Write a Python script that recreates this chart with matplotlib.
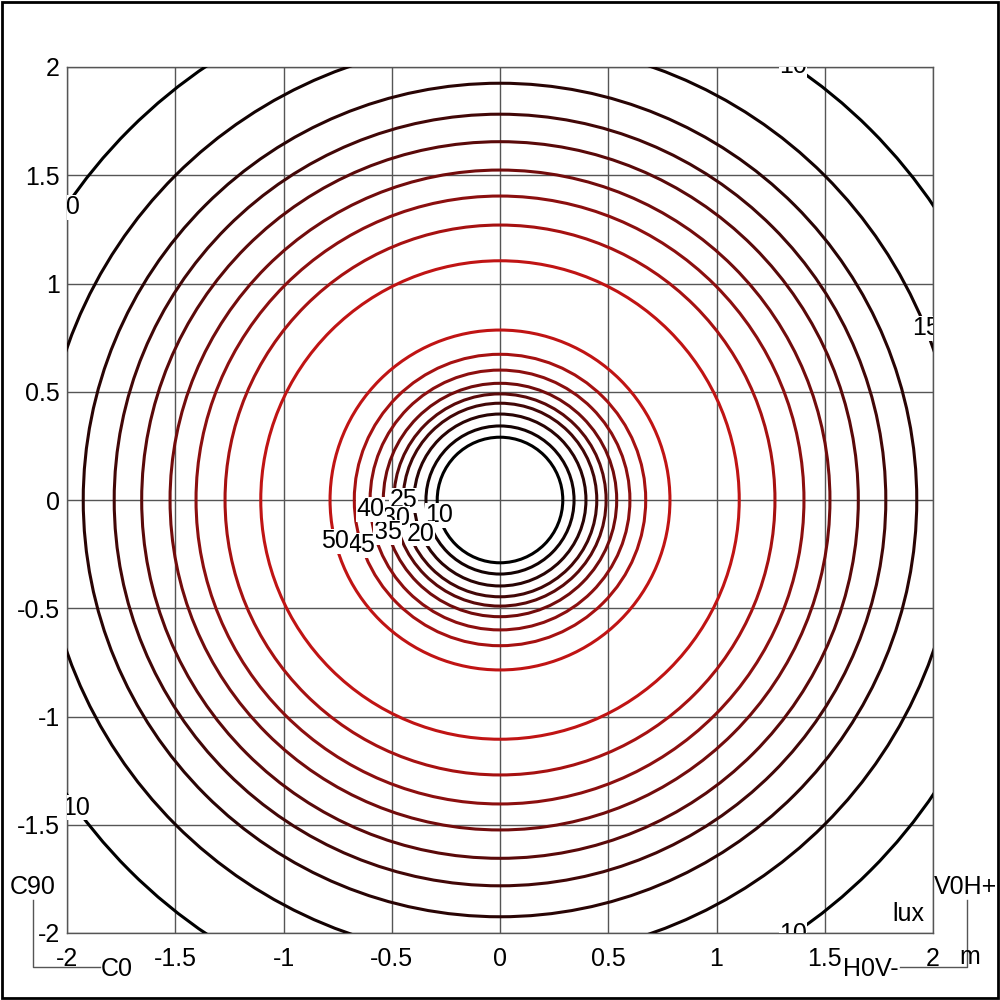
import numpy as np
import matplotlib
matplotlib.use('Agg')
import matplotlib.pyplot as plt
from matplotlib.patches import Circle, Rectangle
from matplotlib.lines import Line2D
from matplotlib.colors import LinearSegmentedColormap

plt.rcParams['font.family'] = ['Liberation Sans', 'DejaVu Sans']

# Isolux levels (lux) and their radii (m)
inner_levels = [10, 15, 20, 25, 30, 35, 40, 45, 50]
inner_radii = [0.29, 0.342, 0.397, 0.447, 0.49, 0.539, 0.60, 0.673, 0.785]
outer_levels = [50, 45, 40, 35, 30, 25, 20, 15, 10]
outer_radii = [1.105, 1.27, 1.404, 1.524, 1.655, 1.782, 1.925, 2.12, 2.42]

# Contour labels: (level, radius, angle in degrees)
label_level = [10, 20, 25, 30, 35, 40, 45, 50, 10, 10, 10, 10, 15]
label_radius = [0.29, 0.397, 0.447, 0.49, 0.539, 0.60, 0.673, 0.785,
                2.42, 2.42, 2.42, 2.42, 2.12]
label_angle = [194, 203, 180, 190, 196, 184, 198, 194, 56, 146, 216, -56, 22]

ticks = [-2, -1.5, -1, -0.5, 0, 0.5, 1, 1.5, 2]
tick_labels = ['-2', '-1.5', '-1', '-0.5', '0', '0.5', '1', '1.5', '2']

cmap = LinearSegmentedColormap.from_list('isolux', ['#000000', '#c01414'])
FS = 18


def level_color(v):
    t = (v - 10) / 40.0
    return cmap(t ** 1.1)


fig = plt.figure(figsize=(10, 10), dpi=100)
ax = fig.add_axes([0.067, 0.067, 0.866, 0.866])
ax.set_xlim(-2, 2)
ax.set_ylim(-2, 2)
ax.set_aspect('auto')

# grid
ax.set_xticks(ticks)
ax.set_yticks(ticks)
ax.set_xticklabels(tick_labels)
ax.set_yticklabels(tick_labels)
ax.tick_params(length=0, labelsize=FS, colors='black')
ax.tick_params(axis='x', pad=10)
ax.tick_params(axis='y', pad=5)
ax.grid(True, color='#555555', linewidth=1.0)
ax.set_axisbelow(True)
for s in ax.spines.values():
    s.set_color('#555555')
    s.set_linewidth(1.0)

# isolux circles
for lev, r in zip(inner_levels + outer_levels, inner_radii + outer_radii):
    ax.add_patch(Circle((0, 0), r, fill=False, edgecolor=level_color(lev),
                        linewidth=2.2, zorder=3))

# labels
for lev, r, a in zip(label_level, label_radius, label_angle):
    th = np.deg2rad(a)
    ax.text(r * np.cos(th), r * np.sin(th), str(lev), fontsize=FS,
            ha='center', va='center', zorder=4, clip_on=True,
            bbox=dict(boxstyle='square,pad=0.02', fc='white', ec='none'))

ax.text(0.99, 0.008, 'lux', transform=ax.transAxes, fontsize=FS,
        ha='right', va='bottom')

# corner annotations
gray = '#555555'
fig.add_artist(Line2D([0.033, 0.033, 0.100], [0.100, 0.033, 0.033],
                      color=gray, linewidth=1.0))
fig.add_artist(Line2D([0.900, 0.967, 0.967], [0.033, 0.033, 0.100],
                      color=gray, linewidth=1.0))
fig.text(0.033, 0.101, 'C90', fontsize=FS, ha='center', va='bottom')
fig.text(0.101, 0.031, 'C0', fontsize=FS, ha='left', va='center')
fig.text(0.966, 0.101, 'V0H+', fontsize=FS, ha='center', va='bottom')
fig.text(0.899, 0.031, 'H0V-', fontsize=FS, ha='right', va='center')
fig.text(0.970, 0.043, 'm', fontsize=FS, ha='center', va='center')

# outer frame
fig.add_artist(Rectangle((0.002, 0.002), 0.996, 0.996, fill=False,
                         edgecolor='black', linewidth=2.0,
                         transform=fig.transFigure))

fig.savefig('out.png', dpi=100, facecolor='white')
